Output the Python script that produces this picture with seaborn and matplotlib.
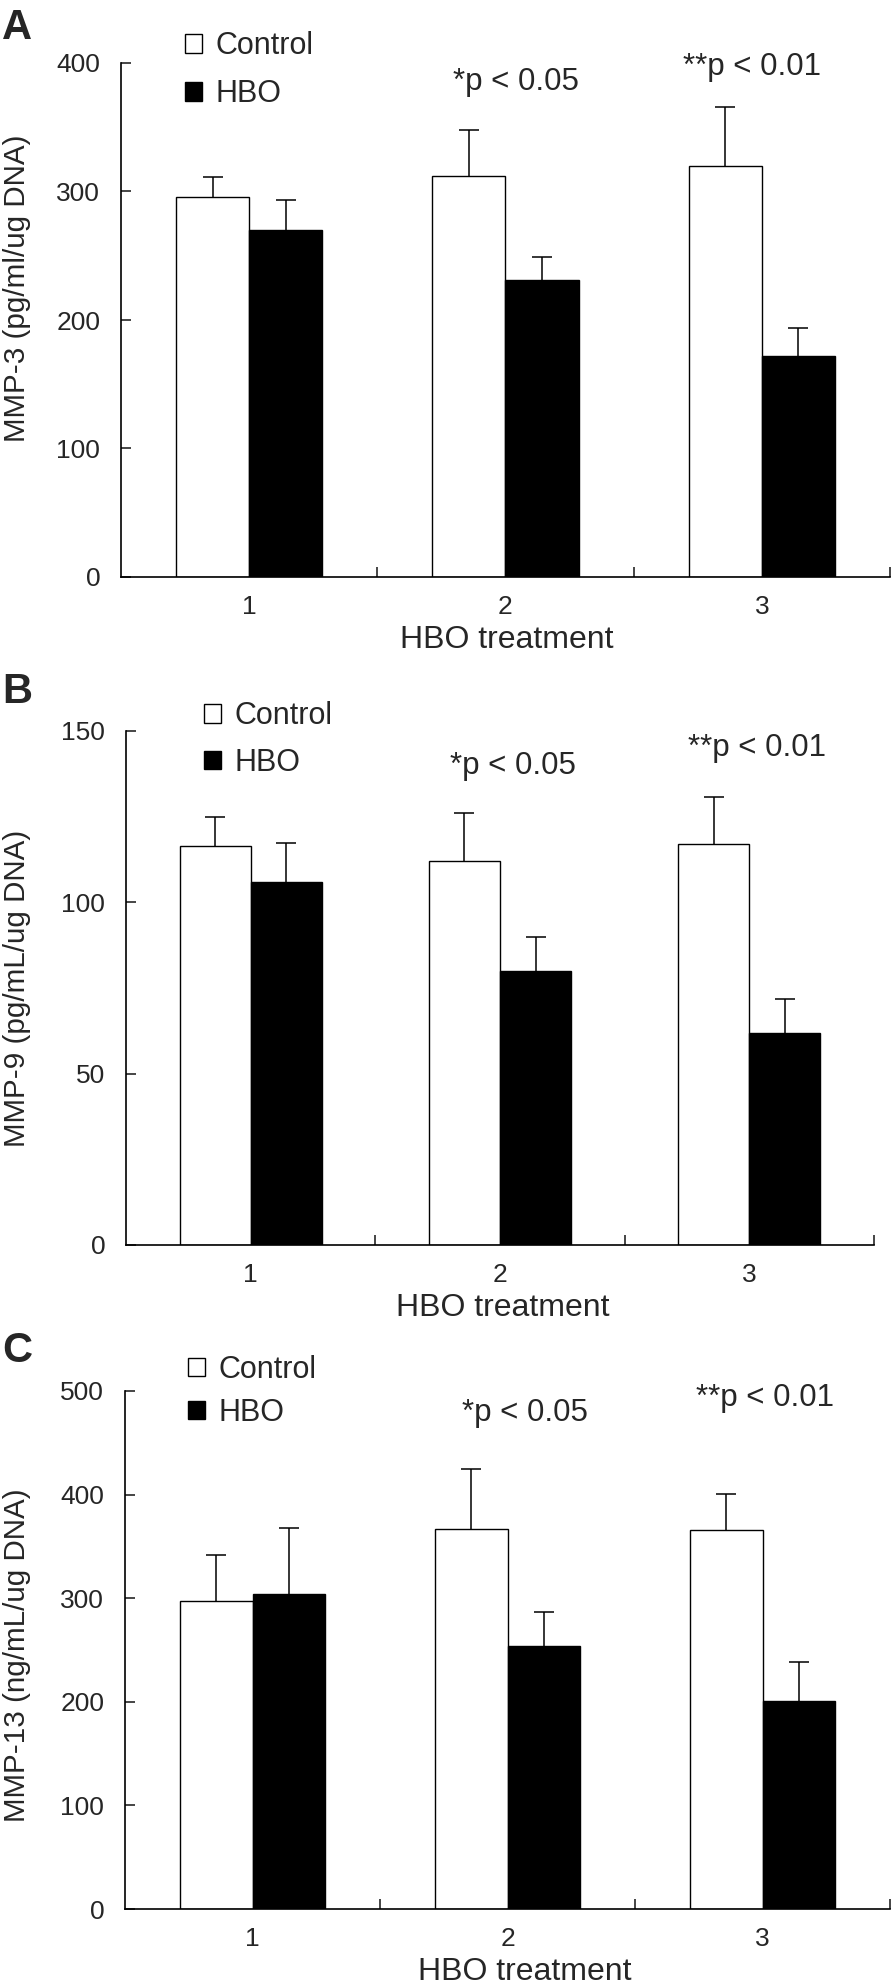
import numpy as np
import pandas as pd
import matplotlib
matplotlib.use("Agg")
import matplotlib.pyplot as plt
from matplotlib.patches import Patch
from matplotlib.transforms import blended_transform_factory
import seaborn as sns

# values (mean, upper SD)
treatments = ["1", "2", "3"]
groups = ["Control", "HBO"]

mmp3_control = [296, 312, 320]
mmp3_control_sd = [15, 36, 46]
mmp3_hbo = [270, 231, 172]
mmp3_hbo_sd = [23, 18, 22]

mmp9_control = [116.5, 112.2, 116.9]
mmp9_control_sd = [8.4, 13.8, 13.8]
mmp9_hbo = [105.9, 80.0, 61.9]
mmp9_hbo_sd = [11.5, 9.8, 9.8]

mmp13_control = [297.5, 367.1, 365.8]
mmp13_control_sd = [44.3, 57.8, 35.0]
mmp13_hbo = [304.2, 254.0, 200.8]
mmp13_hbo_sd = [63.3, 32.9, 38.0]

ylabels = ["MMP-3 (pg/ml/ug DNA)", "MMP-9 (pg/mL/ug DNA)", "MMP-13 (ng/mL/ug DNA)"]
yticks = [[0, 100, 200, 300, 400], [0, 50, 100, 150], [0, 100, 200, 300, 400, 500]]
panel_letters = ["A", "B", "C"]
sig_labels = ["*p < 0.05", "**p < 0.01"]

sns.set_style("ticks")
plt.rcParams['font.family'] = ['Liberation Sans', 'DejaVu Sans']

W, H = 894, 1985
fig = plt.figure(figsize=(W / 100, H / 100), dpi=100)

# axes boxes in pixels: left, top, right, bottom
boxes = [(121, 63, 890, 577), (126, 731, 874, 1245), (125, 1391, 890, 1909)]
ylab_y = [0.562, 0.5, 0.49]
xlab_x = [0.502, 0.504, 0.522]
letter_top = [8, 672, 1331]
legend_anchor = [(0.083, 1.062), (0.104, 1.058), (0.082, 1.070)]
legend_spacing = [0.6, 0.55, 0.42]
sig_pos = [[(1.04, 0.963), (1.96, 0.992)],
           [(1.05, 0.932), (2.03, 0.967)],
           [(1.07, 0.958), (2.01, 0.986)]]

panels = [
    (mmp3_control, mmp3_control_sd, mmp3_hbo, mmp3_hbo_sd),
    (mmp9_control, mmp9_control_sd, mmp9_hbo, mmp9_hbo_sd),
    (mmp13_control, mmp13_control_sd, mmp13_hbo, mmp13_hbo_sd),
]
palette = {"Control": "white", "HBO": "black"}

for i, (ctrl, ctrl_sd, hbo, hbo_sd) in enumerate(panels):
    l, t, r, b = boxes[i]
    wpx, hpx = r - l, b - t
    ax = fig.add_axes([l / W, 1 - b / H, wpx / W, hpx / H])

    df = pd.DataFrame({
        "treatment": treatments * 2,
        "group": ["Control"] * 3 + ["HBO"] * 3,
        "value": list(ctrl) + list(hbo),
    })
    sns.barplot(data=df, x="treatment", y="value", hue="group", order=treatments,
                hue_order=groups, palette=palette, edgecolor="black", linewidth=1.0,
                width=0.57, gap=0, errorbar=None, legend=False, ax=ax)

    # upper error bars, placed on the bars seaborn drew
    for cont, sd in zip(ax.containers, [ctrl_sd, hbo_sd]):
        xs = [p.get_x() + p.get_width() / 2 for p in cont]
        ys = [p.get_height() for p in cont]
        _, caps, _ = ax.errorbar(xs, ys, yerr=[np.zeros(len(sd)), sd], fmt="none",
                                 ecolor="black", elinewidth=1.1, capsize=7,
                                 capthick=1.1, zorder=3)
        # hide the lower cap that would sit on the bar top
        for c in caps:
            if np.allclose(c.get_ydata(), ys):
                c.set_visible(False)

    ax.set_xlim(-0.5, 2.5)
    ax.set_ylim(0, yticks[i][-1])
    ax.set_yticks(yticks[i])
    ax.set_xticks(range(3))
    ax.set_xticklabels(treatments)
    ax.set_xticks([0.5, 1.5, 2.5], minor=True)
    ax.tick_params(axis="x", which="major", length=0, pad=13, labelsize=19)
    ax.tick_params(axis="x", which="minor", direction="in", length=7, width=1.2)
    ax.tick_params(axis="y", direction="in", length=7, width=1.2, pad=15, labelsize=19)
    sns.despine(ax=ax)
    for s in ["left", "bottom"]:
        ax.spines[s].set_linewidth(1.2)
        ax.spines[s].set_color("black")

    ax.set_ylabel(ylabels[i], fontsize=21.3)
    ax.yaxis.set_label_coords((31 - l) / wpx, ylab_y[i])
    ax.set_xlabel("HBO treatment", fontsize=23)
    ax.xaxis.set_label_coords(xlab_x[i], -48 / hpx)

    handles = [Patch(facecolor=palette[g], edgecolor="black", linewidth=1.0) for g in groups]
    ax.legend(handles, groups, loc="upper left", bbox_to_anchor=legend_anchor[i],
              frameon=False, fontsize=22, handlelength=0.55, handleheight=0.55,
              handletextpad=0.45, labelspacing=legend_spacing[i], borderpad=0,
              borderaxespad=0)

    trans = blended_transform_factory(ax.transData, ax.transAxes)
    for lab, (sx, sy) in zip(sig_labels, sig_pos[i]):
        ax.text(sx, sy, lab, transform=trans, ha="center", va="center", fontsize=22.5)

    fig.text(2 / W, 1 - letter_top[i] / H, panel_letters[i], fontsize=30,
             fontweight="bold", ha="left", va="top")

fig.savefig("out.png", dpi=100)
